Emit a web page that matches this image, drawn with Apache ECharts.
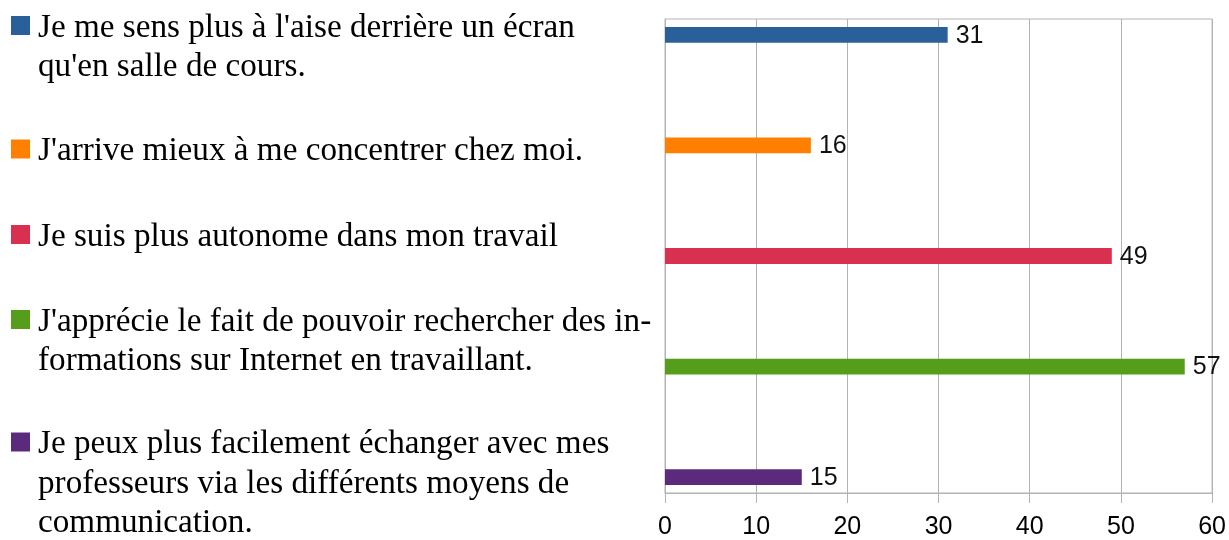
<!DOCTYPE html>
<html>
<head>
<meta charset="utf-8">
<script src="https://cdn.jsdelivr.net/npm/echarts@6/dist/echarts.min.js"></script>
<style>html,body{margin:0;padding:0;background:#fff;}#c{width:1229px;height:540px;}</style>
</head>
<body>
<div id="c"></div>
<script>
const categories = [
  "Je me sens plus à l'aise derrière un écran qu'en salle de cours.",
  "J'arrive mieux à me concentrer chez moi.",
  "Je suis plus autonome dans mon travail",
  "J'apprécie le fait de pouvoir rechercher des informations sur Internet en travaillant.",
  "Je peux plus facilement échanger avec mes professeurs via les différents moyens de communication."
];
const legendLabels = [
  "Je me sens plus à l'aise derrière un écran\nqu'en salle de cours.",
  "J'arrive mieux à me concentrer chez moi.",
  "Je suis plus autonome dans mon travail",
  "J'apprécie le fait de pouvoir rechercher des in-\nformations sur Internet en travaillant.",
  "Je peux plus facilement échanger avec mes\nprofesseurs via les différents moyens de\ncommunication."
];
const values = [31, 16, 49, 57, 15];
const colors = ['#2a6099', '#ff8000', '#d9304f', '#579d1c', '#5c2a7d'];
const xTicks = [0, 10, 20, 30, 40, 50, 60];

const LH = 39.5;
const SHIFT = 5;
const legendCenters = [25.5, 149, 234.5, 319.5, 442];
const gray = '#b3b3b3';

const legends = categories.map((name, i) => {
  const lines = legendLabels[i].split('\n');
  const n = lines.length;
  const parts = ['{s|}'];
  for (let k = 0; k < n - 1; k++) parts.push('{b|}');
  lines.forEach(l => parts.push('{t|' + l + '}'));
  const text = parts.join('\n');
  return {
    show: true,
    data: [name],
    left: 11,
    top: legendCenters[i] - SHIFT / 2 - (2 * n - 1) * LH / 2,
    padding: 0,
    orient: 'vertical',
    icon: 'rect',
    itemWidth: 19,
    itemHeight: 19,
    selectedMode: false,
    formatter: () => text,
    textStyle: {
      fontFamily: 'Liberation Serif',
      fontSize: 33.2,
      lineHeight: LH,
      color: '#000',
      rich: {
        s: { lineHeight: SHIFT, height: SHIFT, fontSize: 5 },
        b: { lineHeight: LH, height: LH, fontFamily: 'Liberation Serif', fontSize: 33.2 },
        t: { lineHeight: LH, fontFamily: 'Liberation Serif', fontSize: 33.2, color: '#000', padding: [0, 0, 0, 3] }
      }
    }
  };
});

const series = categories.map((name, i) => ({
  name: name,
  type: 'bar',
  barGap: '0%',
  barCategoryGap: '16.6667%',
  itemStyle: { color: colors[i] },
  label: {
    show: true,
    position: 'right',
    distance: 8,
    offset: [0, 1],
    fontFamily: 'Liberation Sans',
    fontSize: 25,
    color: '#111'
  },
  data: categories.map((c, j) => (j === i ? values[i] : '-'))
}));

const chart = echarts.init(document.getElementById('c'), null, { renderer: 'canvas' });
chart.setOption({
  animation: false,
  backgroundColor: '#fff',
  legend: legends,
  grid: {
    left: 665, right: 14, top: 19, bottom: 46,
    show: true, borderColor: gray, borderWidth: 1, backgroundColor: 'transparent'
  },
  xAxis: {
    type: 'value',
    min: xTicks[0],
    max: xTicks[xTicks.length - 1],
    interval: 10,
    axisLine: { show: true, lineStyle: { color: gray, width: 1 } },
    axisTick: { show: true, length: 10, lineStyle: { color: gray } },
    splitLine: { show: true, lineStyle: { color: gray, width: 1 } },
    axisLabel: {
      fontFamily: 'Liberation Sans',
      fontSize: 25,
      color: '#000',
      margin: 22,
      formatter: v => String(v)
    }
  },
  yAxis: {
    type: 'category',
    inverse: true,
    data: categories,
    axisLine: { show: true, lineStyle: { color: gray, width: 1 } },
    axisTick: { show: false },
    axisLabel: { show: false },
    splitLine: { show: false }
  },
  series: series
});
</script>
</body>
</html>
